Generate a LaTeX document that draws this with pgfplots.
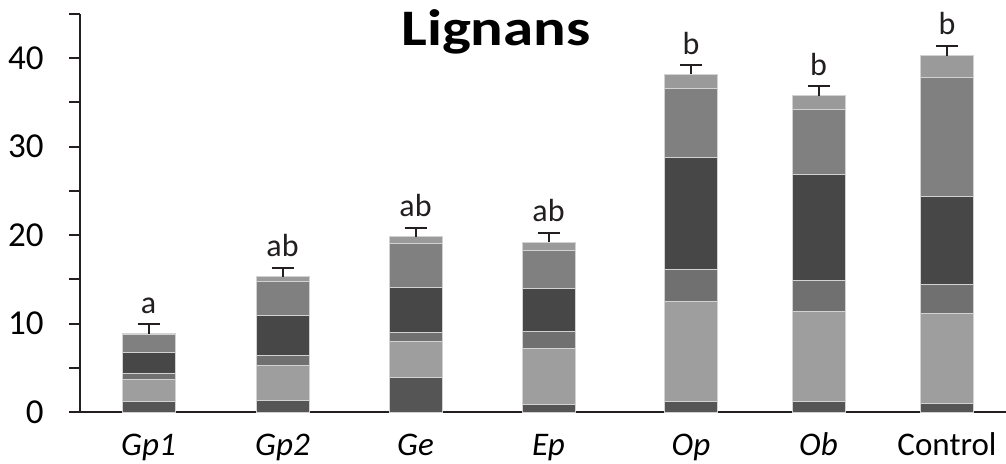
\documentclass[border=0pt]{standalone}
\usepackage{fontspec}
\setmainfont{Carlito}
\usepackage{graphicx}
\usepackage{pgfplots}
\pgfplotsset{compat=1.18}
\usepackage{pgfplotstable}

\definecolor{cA}{HTML}{555555}
\definecolor{cB}{HTML}{9D9E9D}
\definecolor{cC}{HTML}{707070}
\definecolor{cD}{HTML}{474747}
\definecolor{cE}{HTML}{808080}
\definecolor{cF}{HTML}{9A9A9A}
\definecolor{axc}{HTML}{231F20}
\definecolor{sep}{HTML}{D2D2D2}

\pgfplotstableread{
x     s1   s2    s3   s4    s5    s6   tot   err  etop  lab
148.5 1.17 2.52  0.64 2.44  1.98  0.10 8.85  1.10 9.95  a
282.5 1.35 3.92  1.13 4.55  3.85  0.49 15.29 1.00 16.29 ab
415.5 3.95 4.07  1.02 5.01  5.01  0.75 19.81 1.00 20.81 ab
548.5 0.90 6.33  1.92 4.78  4.30  0.94 19.17 1.09 20.26 ab
691   1.17 11.37 3.62 12.58 7.83  1.62 38.19 1.00 39.19 b
818.5 1.17 10.24 3.51 11.94 7.34  1.55 35.75 1.09 36.84 b
947   0.98 10.17 3.31 9.91  13.45 2.48 40.30 1.10 41.40 b
}\data

\pgfplotsset{common/.style={x=0.5pt, y=4.4222pt, xmin=80, xmax=1006, ymin=0, ymax=45,
  at={(40pt,25.5pt)}, anchor=south west, clip=false}}

\begin{document}
\begin{tikzpicture}
\useasboundingbox (0,0) rectangle (503pt,231.5pt);
\begin{axis}[common,
  axis lines=left,
  axis line style={axc, line width=1pt, -},
  ybar stacked, bar width=26.5pt,
  ytick={0,10,20,30,40}, yticklabels={0,10,20,30,40},
  minor ytick={5,15,25,35,45},
  ytick align=outside, xtick align=inside,
  major tick length=5.5pt, minor tick length=5.5pt,
  ytick style={axc, line width=1pt},
  minor tick style={axc, line width=1pt},
  xtick={148.5,282.5,415.5,548.5,691,818.5,947},
  xticklabels={\itshape Gp1,\itshape Gp2,\itshape Ge,\itshape Ep,\itshape Op,\itshape Ob,Control},
  xtick style={draw=none},
  yticklabel style={font=\fontsize{17.5}{17.5}\selectfont, anchor=east, inner sep=0pt, xshift=-12.5pt, text=black},
  xticklabel style={font=\fontsize{16.5}{16.5}\selectfont, anchor=base, inner sep=0pt, yshift=-21.5pt, text=black},
]
\addplot[fill=cA, draw=sep, line width=0.5pt] table[x=x,y=s1]{\data};
\addplot[fill=cB, draw=sep, line width=0.5pt] table[x=x,y=s2]{\data};
\addplot[fill=cC, draw=sep, line width=0.5pt] table[x=x,y=s3]{\data};
\addplot[fill=cD, draw=sep, line width=0.5pt] table[x=x,y=s4]{\data};
\addplot[fill=cE, draw=sep, line width=0.5pt] table[x=x,y=s5]{\data};
\addplot[fill=cF, draw=sep, line width=0.5pt] table[x=x,y=s6]{\data};
\end{axis}
\begin{axis}[common, hide axis]
\addplot[draw=none, mark=none,
  error bars/.cd, y dir=plus, y explicit,
  error bar style={draw=axc, line width=1pt, solid},
  error mark options={draw=axc, rotate=90, mark size=5.5pt, line width=1pt}]
  table[x=x, y=tot, y error=err]{\data};
\addplot[draw=none, mark=none, nodes near coords, point meta=explicit symbolic,
  nodes near coords style={anchor=base, yshift=5.5pt, inner sep=0pt, text=axc,
    font=\fontsize{16}{16}\selectfont}]
  table[x=x, y=etop, meta=lab]{\data};
\end{axis}
\node[anchor=base, inner sep=0pt] at (248pt,209pt)
  {\scalebox{1.19}[1]{\fontsize{25.6}{25.6}\selectfont\bfseries Lignans}};
\end{tikzpicture}
\end{document}
